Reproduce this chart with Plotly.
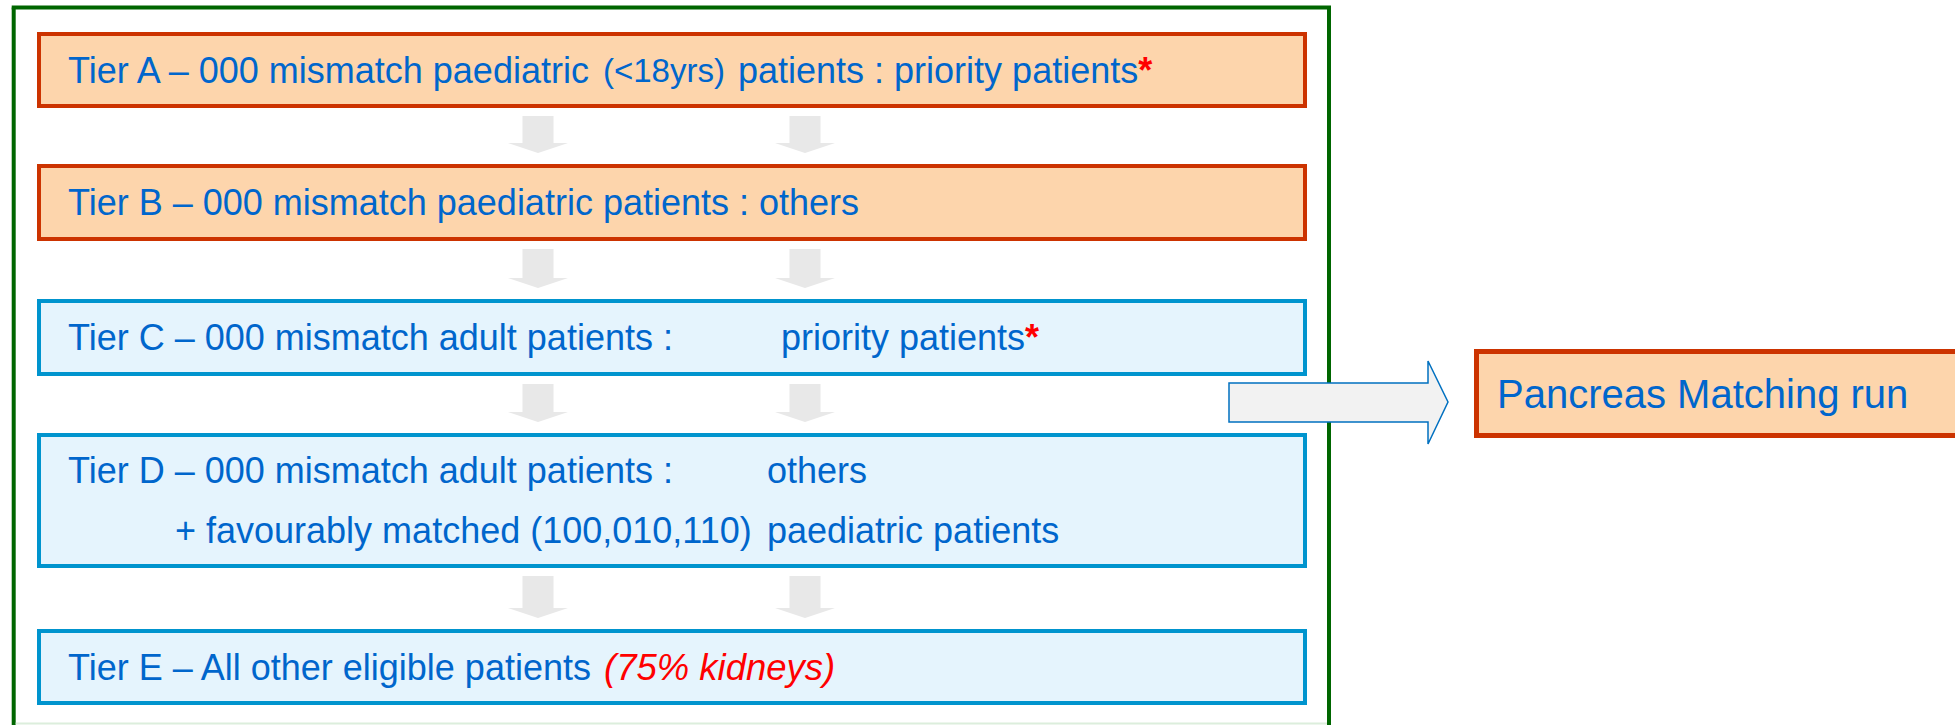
import plotly.graph_objects as go

# text content of the allocation tiers
tier_main = [
    "Tier A – 000 mismatch paediatric",
    "Tier B – 000 mismatch paediatric patients : others",
    "Tier C – 000 mismatch adult patients :",
    "Tier D – 000 mismatch adult patients :",
    "Tier E – All other eligible patients",
]
tier_tail = ["patients : priority patients", "", "priority patients", "others", ""]
tier_priority = [True, False, True, False, False]
tier_paediatric = [True, True, False, False, False]
age_note = "(<18yrs)"
tier_d_extra = "+ favourably matched (100,010,110)"
tier_d_extra_tail = "paediatric patients"
kidney_note = "(75% kidneys)"
target_label = "Pancreas Matching run"

# layout geometry (pixels, y downwards)
W, H = 1955, 725
box_x = (39, 1305)
box_y = [(34, 106), (166, 239), (301, 374), (435, 566), (631, 703)]
text_x = 66
tail_x = [736, None, 779, 765, None]
arrow_cx = [538, 805]

BLUE_TXT = "#0066CC"
ORANGE_FILL = "#FDD5AC"
ORANGE_LINE = "#CC3300"
BLUE_FILL = "#E5F4FD"
BLUE_LINE = "#0094CE"
GREEN = "#006600"
FONT = "Liberation Sans, Arial, sans-serif"
FS = 36

fig = go.Figure()
shapes = []
annotations = []

# outer green frame (bottom edge is cut off by the picture)
shapes.append(dict(type="line", x0=13.7, x1=13.7, y0=7.5, y1=H, line=dict(color=GREEN, width=4)))
shapes.append(dict(type="line", x0=11.7, x1=1331, y0=7.5, y1=7.5, line=dict(color=GREEN, width=4)))
shapes.append(dict(type="line", x0=1329, x1=1329, y0=7.5, y1=H, line=dict(color=GREEN, width=4)))
shapes.append(dict(type="line", x0=15.7, x1=1327, y0=723.5, y1=723.5, line=dict(color="#DCEEDC", width=2)))

star = '<b><span style="color:#FF0000">*</span></b>'

for i, (y0, y1) in enumerate(box_y):
    fill = ORANGE_FILL if tier_paediatric[i] else BLUE_FILL
    line = ORANGE_LINE if tier_paediatric[i] else BLUE_LINE
    shapes.append(dict(type="rect", x0=box_x[0], x1=box_x[1], y0=y0, y1=y1,
                       fillcolor=fill, line=dict(color=line, width=4)))
    yc = (y0 + y1) / 2
    y_first = yc - 30 if i == 3 else yc
    annotations.append(dict(x=text_x, y=y_first, text=tier_main[i]))
    if tier_tail[i]:
        annotations.append(dict(x=tail_x[i], y=y_first,
                                text=tier_tail[i] + (star if tier_priority[i] else "")))
    if i == 0:
        annotations.append(dict(x=601, y=y_first, text=age_note, font=dict(size=33)))
    if i == 3:
        annotations.append(dict(x=173, y=yc + 30, text=tier_d_extra))
        annotations.append(dict(x=765, y=yc + 30, text=tier_d_extra_tail))
    if i == 4:
        annotations.append(dict(x=602, y=yc, text="<i>" + kidney_note + "</i>",
                                font=dict(color="#FF0000", size=36.5)))

    # grey down arrows to the next tier
    if i < len(box_y) - 1:
        top = y1 + 10
        tip = box_y[i + 1][0] - 13
        base = tip - 10
        for cx in arrow_cx:
            path = (f"M {cx-15.5},{top} L {cx+15.5},{top} L {cx+15.5},{base} "
                    f"L {cx+30},{base} L {cx},{tip} L {cx-30},{base} L {cx-15.5},{base} Z")
            shapes.append(dict(type="path", path=path, fillcolor="#E8E8E8",
                               line=dict(width=0)))

# block arrow to the pancreas box
shapes.append(dict(type="path",
                   path="M 1229,383 L 1428,383 L 1428,361 L 1448,402 L 1428,444 L 1428,422 L 1229,422 Z",
                   fillcolor="#F2F2F2", line=dict(color="#0070C0", width=1.5)))
shapes.append(dict(type="rect", x0=1476.5, x1=1965, y0=351.5, y1=435.5,
                   fillcolor=ORANGE_FILL, line=dict(color=ORANGE_LINE, width=5)))
annotations.append(dict(x=1495, y=394, text=target_label, font=dict(size=40)))

for a in annotations:
    a.setdefault("font", {})
    a["font"].setdefault("size", FS)
    a["font"].setdefault("color", BLUE_TXT)
    a["font"]["family"] = FONT
    a.update(xref="x", yref="y", xanchor="left", yanchor="middle", showarrow=False)

fig.update_layout(
    width=W, height=H,
    margin=dict(l=0, r=0, t=0, b=0),
    paper_bgcolor="white", plot_bgcolor="white",
    shapes=shapes, annotations=annotations,
    showlegend=False,
)
fig.update_xaxes(range=[0, W], visible=False, fixedrange=True)
fig.update_yaxes(range=[H, 0], visible=False, fixedrange=True)

# drop the default page margin so the figure sits at the window's corner
fig.write_html("out.html", config={"displayModeBar": False},
               post_script="document.body.style.margin='0';")
